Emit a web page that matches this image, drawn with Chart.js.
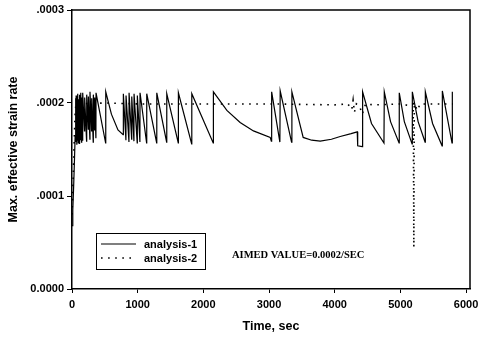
<!DOCTYPE html>
<html><head><meta charset="utf-8">
<script src="https://cdn.jsdelivr.net/npm/chart.js@4/dist/chart.umd.min.js"></script>
<style>html,body{margin:0;padding:0;background:#fff}#wrap{width:479px;height:343px}</style>
</head><body><div id="wrap"><canvas id="c" width="479" height="343"></canvas></div>
<script>
const seriesNames = ['analysis-1', 'analysis-2'];
const xTickValues = [0, 1000, 2000, 3000, 4000, 5000, 6000];
const yTickValues = [0, 0.0001, 0.0002, 0.0003];
const yTickLabels = ['0.0000', '.0001', '.0002', '.0003'];
const xTitle = 'Time, sec';
const yTitle = 'Max. effective strain rate';
const annotationText = 'AIMED VALUE=0.0002/SEC';

// analysis-1 (solid): time (sec) and max effective strain rate
const a1Time = [0, 12, 25, 38, 48, 52, 60, 63, 72, 75, 84, 87, 96, 99, 108, 111, 120, 123, 132, 135, 145, 148, 160, 163,
  190, 193, 222, 224, 248, 250, 272, 274, 298, 300, 323, 325, 344, 346, 364, 366, 512, 514, 600, 700, 778, 782, 821, 823, 867, 869, 908, 910, 943, 945,
  993, 995, 1034, 1036, 1136, 1138, 1289, 1291, 1441, 1443, 1618, 1620, 1822, 1824, 2150, 2153,
  2358, 2560, 2763, 3018, 3035, 3040, 3165, 3170, 3343, 3348, 3520, 3650, 3780, 3950, 4084, 4250, 4343, 4350,
  4420, 4425, 4560, 4750, 4755, 4850, 4980, 4983, 5060, 5178, 5182, 5270, 5376, 5380, 5490, 5635, 5639, 5786, 5791];
const a1Rate = [0.000068, 0.000085, 0.000110, 0.000140, 0.000165, 0.000205, 0.000158, 0.000208, 0.000155, 0.000206, 0.000160, 0.000210, 0.000157, 0.000204, 0.000162, 0.000209, 0.000156, 0.000205, 0.000160, 0.000211, 0.000158, 0.000206, 0.000160, 0.000211,
  0.000170, 0.000206, 0.000159, 0.000209, 0.000172, 0.000207, 0.000161, 0.000212, 0.000170, 0.000205, 0.000158, 0.000209, 0.000171, 0.000206, 0.000162, 0.000211, 0.000157, 0.000212, 0.000188, 0.000171, 0.000166, 0.000210, 0.000160, 0.000208, 0.000158, 0.000211, 0.000161, 0.000207, 0.000159, 0.000210,
  0.000157, 0.000208, 0.000158, 0.000211, 0.000157, 0.000210, 0.000157, 0.000211, 0.000158, 0.000210, 0.000157, 0.000211, 0.000156, 0.000210, 0.000157, 0.000212,
  0.000192, 0.000179, 0.000170, 0.000163, 0.000159, 0.000212, 0.000158, 0.000213, 0.000158, 0.000212, 0.000163, 0.000160, 0.000159, 0.000161, 0.000164, 0.000167, 0.000169, 0.000154,
  0.000153, 0.000212, 0.000178, 0.000157, 0.000212, 0.000180, 0.000157, 0.000211, 0.000180, 0.000156, 0.000212, 0.000180, 0.000158, 0.000212, 0.000178, 0.000154, 0.000213, 0.000157, 0.000212];

// analysis-2 (dotted)
const a2Time = [0, 15, 30, 45, 60, 500, 1000, 2000, 3000, 4000, 4200, 4260, 4280, 4300, 4330, 4380, 4420, 4470, 4600, 5000, 5150, 5195, 5205, 5212, 5260, 5300, 5800];
const a2Rate = [0.000080, 0.000110, 0.000150, 0.000185, 0.000199, 0.000200, 0.000199, 0.000199, 0.000199, 0.000198, 0.000199, 0.000193, 0.000203, 0.000190, 0.000199, 0.000196, 0.000188, 0.000199, 0.000198, 0.000199, 0.000197, 0.000199, 0.000045, 0.000199, 0.000192, 0.000199, 0.000199];

const toPoints = (xs, ys) => xs.map((x, i) => ({x: x, y: ys[i]}));

const SANS = '"Liberation Sans", Arial, sans-serif';
const SERIF = '"Liberation Serif", "Times New Roman", serif';

const framePlugin = {
  id: 'frame',
  afterDatasetsDraw(chart) {
    const {ctx, chartArea: a} = chart;
    ctx.save();
    ctx.strokeStyle = '#000';
    ctx.lineWidth = 1.5;
    ctx.beginPath();
    ctx.moveTo(a.left, a.top);
    ctx.lineTo(a.right, a.top);
    ctx.lineTo(a.right, a.bottom);
    ctx.stroke();
    ctx.restore();
  }
};

const legendPlugin = {
  id: 'boxLegend',
  afterDraw(chart) {
    const {ctx} = chart;
    ctx.save();
    ctx.strokeStyle = '#000';
    ctx.lineWidth = 1;
    ctx.strokeRect(96.5, 233.5, 109, 36);
    const rows = [244, 258];
    chart.data.datasets.forEach((ds, i) => {
      ctx.beginPath();
      ctx.lineWidth = ds.borderWidth;
      ctx.setLineDash(ds.borderDash || []);
      ctx.moveTo(101, rows[i]);
      ctx.lineTo(136, rows[i]);
      ctx.stroke();
      ctx.setLineDash([]);
      ctx.fillStyle = '#000';
      ctx.font = 'bold 11px ' + SANS;
      ctx.textBaseline = 'middle';
      ctx.textAlign = 'left';
      ctx.fillText(ds.label, 144, rows[i] + 0.5);
    });
    ctx.font = 'bold 10.5px ' + SERIF;
    ctx.textBaseline = 'middle';
    ctx.fillText(annotationText, 232, 255);
    ctx.restore();
  }
};

new Chart(document.getElementById('c'), {
  type: 'line',
  data: {
    datasets: [
      {label: seriesNames[0], data: toPoints(a1Time, a1Rate), borderColor: '#000', borderWidth: 1.2, pointRadius: 0, tension: 0, fill: false},
      {label: seriesNames[1], data: toPoints(a2Time, a2Rate), borderColor: '#000', borderWidth: 1.6, borderDash: [1.6, 5.5], pointRadius: 0, tension: 0, fill: false}
    ]
  },
  options: {
    responsive: false,
    animation: false,
    devicePixelRatio: 1,
    layout: {padding: {top: 10, right: 9, bottom: 0, left: 0}},
    plugins: {legend: {display: false}, tooltip: {enabled: false}},
    scales: {
      x: {
        type: 'linear', min: 0, max: 6060,
        afterBuildTicks: s => { s.ticks = xTickValues.map(v => ({value: v})); },
        afterFit: s => { s.height = 54; s.paddingLeft = 0; s.paddingRight = 0; },
        grid: {display: true, drawOnChartArea: false, drawTicks: true, tickLength: 4, color: '#000', lineWidth: 1},
        border: {display: true, color: '#000', width: 1.5},
        ticks: {color: '#000', font: {family: SANS, size: 11, weight: 'bold'}, padding: 5, maxRotation: 0, autoSkip: false,
          callback: v => String(v)},
        title: {display: true, text: xTitle, color: '#000', font: {family: SANS, size: 12.5, weight: 'bold'}, padding: {top: 0, bottom: 8.5}}
      },
      y: {
        type: 'linear', min: 0, max: 0.0003,
        afterBuildTicks: s => { s.ticks = yTickValues.map(v => ({value: v})); },
        afterFit: s => { s.width = 72; s.paddingTop = 0; s.paddingBottom = 0; },
        grid: {display: true, drawOnChartArea: false, drawTicks: true, tickLength: 5, color: '#000', lineWidth: 1},
        border: {display: true, color: '#000', width: 1.5},
        ticks: {color: '#000', font: {family: SANS, size: 11, weight: 'bold'}, padding: 3,
          callback: (v, i) => yTickLabels[i]},
        title: {display: true, text: yTitle, color: '#000', font: {family: SANS, size: 12.5, weight: 'bold'}, padding: {top: 6.5, bottom: 0}}
      }
    }
  },
  plugins: [framePlugin, legendPlugin]
});
</script></body></html>
